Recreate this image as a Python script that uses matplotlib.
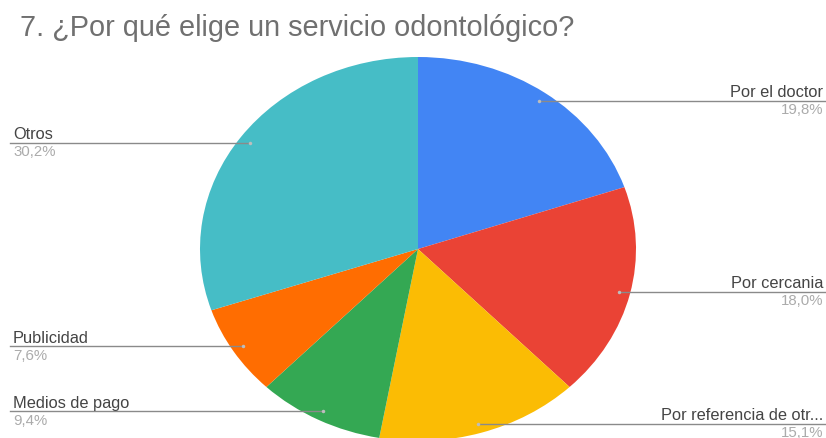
import numpy as np
import matplotlib.pyplot as plt
from matplotlib.transforms import blended_transform_factory

# Survey answers
categories = ['Por el doctor', 'Por cercania', 'Por referencia de otr...',
              'Medios de pago', 'Publicidad', 'Otros']
percents = [19.8, 18.0, 15.1, 9.4, 7.6, 30.2]
colors = ['#4285F4', '#EA4335', '#FBBC04', '#34A853', '#FF6D01', '#46BDC6']

plt.rcParams['font.family'] = ['Liberation Sans', 'DejaVu Sans']

W, H = 826, 439
fig = plt.figure(figsize=(W / 100, H / 100), dpi=100)

# pie axes placed in pixels (slightly wider than tall)
left, right, top, bottom = 200, 636, 58, 442
ax = fig.add_axes([left / W, (H - bottom) / H, (right - left) / W, (bottom - top) / H])
wedges, _ = ax.pie(percents, colors=colors, startangle=90, counterclock=False,
                   wedgeprops=dict(linewidth=0))
ax.set_aspect('auto')
ax.set_xlim(-1, 1)
ax.set_ylim(-1, 1)

fig.text(20 / W, 1 - 36 / H, '7. ¿Por qué elige un servicio odontológico?',
         fontsize=20.8, color='#707070', va='baseline', ha='left')

# leader lines: from a dot inside each slice out to the figure edge
to_fig = ax.transData + fig.transFigure.inverted()
blend = blended_transform_factory(fig.transFigure, ax.transData)
for w, name, p in zip(wedges, categories, percents):
    mid = np.deg2rad((w.theta1 + w.theta2) / 2)
    dx, dy = 0.95 * np.cos(mid), 0.95 * np.sin(mid)
    fx, _ = to_fig.transform((dx, dy))
    pct = f'{p:.1f}%'.replace('.', ',')
    if dx > 0:
        x_end, x_txt, ha = 1.0, 823 / W, 'right'
    else:
        x_end, x_txt, ha = 10 / W, 13 / W, 'left'
    ax.plot([fx, x_end], [dy, dy], transform=blend, color='#8a8a8a',
            lw=1.0, clip_on=False)
    ax.plot([fx], [dy], transform=blend, marker='o', ms=2.5,
            color='#bdbdbd', mec='none', clip_on=False)
    ax.annotate(name, (x_txt, dy), xycoords=blend, xytext=(0, 3.2),
                textcoords='offset points', ha=ha, va='baseline',
                fontsize=11.8, color='#444444', annotation_clip=False)
    ax.annotate(pct, (x_txt, dy), xycoords=blend, xytext=(0, -8.8),
                textcoords='offset points', ha=ha, va='baseline',
                fontsize=10.8, color='#ababab', annotation_clip=False)

fig.savefig('out.png', dpi=100)
